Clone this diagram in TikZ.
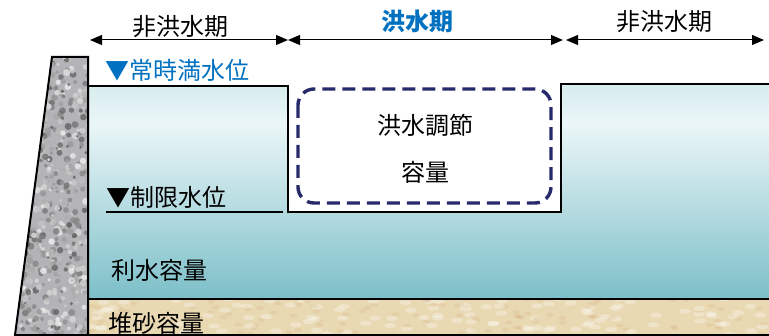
\documentclass[tikz,border=0pt]{standalone}
\usepackage{fontspec}
\setmainfont{Noto Sans CJK JP}
\usepackage{tikz}
\usetikzlibrary{arrows.meta, positioning}

\definecolor{levelblue}{HTML}{0070C0}
\definecolor{floodnavy}{HTML}{262A6B}
\definecolor{watertop}{HTML}{D6ECEE}
\definecolor{waterpale}{HTML}{EBF6F8}
\definecolor{waterdeep}{HTML}{7CBFC8}
\definecolor{sand}{HTML}{E9D9B3}
\definecolor{rock}{HTML}{B4B4B8}

% water body: darker towards the bed
\pgfdeclareverticalshading{reservoir}{100bp}{color(0bp)=(waterdeep);
  color(25bp)=(waterdeep); color(66bp)=(waterpale); color(75bp)=(watertop);
  color(100bp)=(watertop)}

\tikzstyle{lbl} = [font = \fontsize{12}{14}\selectfont, inner sep = 0,
  text = black]
\tikzstyle{level} = [lbl, anchor = west]
\tikzstyle{span} = [<->, line width = 0.5pt]
\tikzstyle{edge} = [line width = 1pt, black]
\tikzstyle{floodbox} = [
  rounded corners = 8pt,
  line width = 1.7pt, draw = floodnavy,
  dash pattern = on 6.5pt off 3.5pt
]

\begin{document}
\begin{tikzpicture}[x = 0.5pt, y = -0.5pt,
    >={Triangle[length = 6pt, width = 5pt]}]
      \useasboundingbox (0, 0) rectangle (769, 336);

      % sediment
      \begin{scope}
        \clip (88, 299) rectangle (769, 335);
        \fill [sand] (88, 299) rectangle (769, 335);
        \pgfmathsetseed{11}
        \foreach \k in {1,...,260} {
          \pgfmathsetmacro{\sx}{88 + 681 * rnd}
          \pgfmathsetmacro{\sy}{297 + 40 * rnd}
          \pgfmathsetmacro{\st}{rnd > 0.5 ? 1 : 0}
          \ifdim\st pt > 0.5pt
            \fill [white, opacity = 0.3] (\sx, \sy) ellipse (6 and 2.5);
          \else
            \fill [brown!60!sand, opacity = 0.2] (\sx, \sy) ellipse (4 and 2);
          \fi
        }
      \end{scope}

      % water
      \shade [shading = reservoir] (88, 86) -- (288, 86) -- (288, 212) --
        (561, 212) -- (561, 84) -- (769, 84) -- (769, 299) -- (88, 299) -- cycle;
      \draw [edge] (88, 86) -- (288, 86) -- (288, 212) -- (561, 212) --
        (561, 84) -- (769, 84);
      \draw [edge] (88, 299) -- (769, 299);
      \draw [edge] (88, 335) -- (769, 335);

      % dam body
      \begin{scope}
        \clip (52, 57) -- (88, 57) -- (88, 335) -- (15, 335) -- cycle;
        \fill [rock] (10, 50) rectangle (90, 340);
        \pgfmathsetseed{7}
        \foreach \k in {1,...,650} {
          \pgfmathsetmacro{\gx}{10 + 80 * rnd}
          \pgfmathsetmacro{\gy}{52 + 286 * rnd}
          \pgfmathsetmacro{\gs}{5 + 60 * rnd}
          \pgfmathsetmacro{\gr}{1.5 + 2 * rnd}
          \fill [black!\gs!white, opacity = 0.8] (\gx, \gy) circle (\gr);
        }
      \end{scope}
      \draw [edge] (52, 57) -- (88, 57) -- (88, 335) -- (15, 335) -- cycle;

      % periods
      \coordinate (t0) at (90, 40);
      \coordinate (t1) at (288, 40);
      \coordinate (t2) at (563, 40);
      \coordinate (t3) at (566, 40);
      \coordinate (t4) at (764, 40);
      \draw [span] (t0) -- (t1);
      \draw [span] (t1) -- (t2);
      \draw [span] (t3) -- (t4);
      \node [lbl] (dry-a) at (180, 27) {非洪水期};
      \node [lbl, text = levelblue, font = \fontsize{12}{14}\selectfont\bfseries]
        (wet) at (417, 21) {洪水期};
      \node [lbl] (dry-b) at (664, 22) {非洪水期};

      % water levels
      \node [level, text = levelblue] (nwl) at (105, 70) {▼常時満水位};
      \node [level] (lim) at (106, 197) {▼制限水位};
      \coordinate (lim-r) at (283, 212);
      \draw [edge] (lim.south west |- lim-r) -- (lim-r);

      % storages
      \node [lbl] (util) at (159, 270) {利水容量};
      \node [lbl] (sedi) at (156, 323) {堆砂容量};
      \draw [floodbox] (298, 89) rectangle (551, 203);
      \node [lbl] (flood-a) at (425, 125) {洪水調節};
      \node [lbl, below = 12pt of flood-a.south] (flood-b) {容量};
    \end{tikzpicture}
\end{document}
